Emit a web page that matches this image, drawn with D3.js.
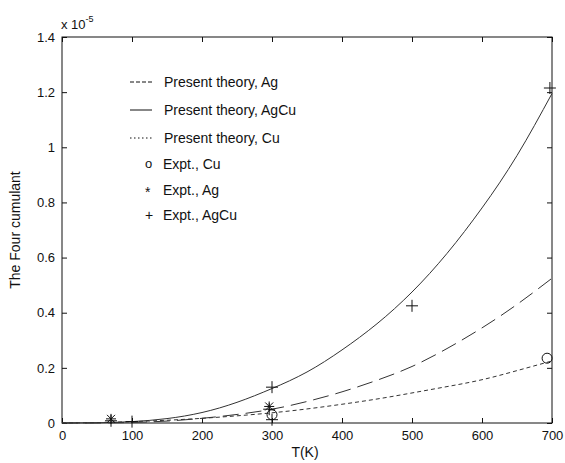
<!DOCTYPE html>
<html><head><meta charset="utf-8">
<script src="https://cdn.jsdelivr.net/npm/d3@7"></script>
<style>body{margin:0;background:#fff}svg{display:block;font-family:"Liberation Sans",Arial,sans-serif}</style>
</head><body><svg id="c" width="565" height="463"></svg>
<script>
// temperatures (K) at which curves are sampled
const temps = [0,50,100,150,200,250,300,350,400,450,500,550,600,650,700];
// theory curves (units of 1e-5)
const theoryAg   = [0,0.0003,0.002,0.007,0.017,0.031,0.05,0.078,0.113,0.155,0.205,0.27,0.345,0.43,0.525];
const theoryAgCu = [0,0.0008,0.005,0.016,0.038,0.075,0.125,0.185,0.265,0.36,0.475,0.615,0.78,0.97,1.195];
const theoryCu   = [0,0.0015,0.005,0.01,0.017,0.026,0.037,0.051,0.068,0.087,0.109,0.132,0.157,0.19,0.225];
// experimental points
const exptCuT = [300,693];       const exptCu = [0.03,0.235];
const exptAgT = [70,296];        const exptAg = [0.015,0.06];
const exptAgCuT = [70,100,300,296,300,500,697]; const exptAgCu = [0.008,0.005,0.13,0.05,0.012,0.425,1.215];
const xTicks = [0,100,200,300,400,500,600,700];
const yTicks = [0,0.2,0.4,0.6,0.8,1,1.2,1.4];
const legendLabels = ["Present theory, Ag","Present theory, AgCu","Present theory, Cu","Expt., Cu","Expt., Ag","Expt., AgCu"];

const svg = d3.select("#c");
const L=62,R=552,T=37,B=423;
const x = d3.scaleLinear().domain([0,700]).range([L,R]);
const y = d3.scaleLinear().domain([0,1.4]).range([B,T]);
const ink="#111";

// axes with inward ticks
const fmt = d=>d3.format("")(+d.toFixed(1));
const gB = svg.append("g").attr("transform",`translate(0,${B})`).call(d3.axisBottom(x).tickValues(xTicks).tickSizeInner(-5).tickSizeOuter(0).tickPadding(8));
const gT = svg.append("g").attr("transform",`translate(0,${T})`).call(d3.axisTop(x).tickValues(xTicks).tickSizeInner(-5).tickSizeOuter(0).tickFormat(""));
const gL = svg.append("g").attr("transform",`translate(${L},0)`).call(d3.axisLeft(y).tickValues(yTicks).tickSizeInner(-5).tickSizeOuter(0).tickPadding(7).tickFormat(fmt));
const gR = svg.append("g").attr("transform",`translate(${R},0)`).call(d3.axisRight(y).tickValues(yTicks).tickSizeInner(-5).tickSizeOuter(0).tickFormat(""));
[gB,gT,gL,gR].forEach(g=>{g.select(".domain").remove();g.selectAll("line").attr("stroke",ink);g.selectAll("text").attr("font-size",13).attr("fill",ink).attr("font-family","Liberation Sans, Arial, sans-serif");});
svg.append("rect").attr("x",L).attr("y",T).attr("width",R-L).attr("height",B-T).attr("fill","none").attr("stroke",ink).attr("stroke-width",1);

// exponent label
const ex = svg.append("text").attr("x",61).attr("y",29).attr("font-size",13).attr("fill",ink);
ex.append("tspan").text("x 10");
ex.append("tspan").attr("dy",-7).attr("font-size",9).text("-5");

// axis titles
svg.append("text").attr("x",305).attr("y",457).attr("text-anchor","middle").attr("font-size",14).attr("fill",ink).text("T(K)");
svg.append("text").attr("transform","translate(20,230) rotate(-90)").attr("text-anchor","middle").attr("font-size",14).attr("fill",ink).text("The Four cumulant");

// curves
const line = d3.line().x(d=>x(d[0])).y(d=>y(d[1])).curve(d3.curveNatural);
const series = [
  {v:theoryAg, dash:"16,7"},
  {v:theoryAgCu, dash:null},
  {v:theoryCu, dash:"4,3"}
];
series.forEach(s=>{
  svg.append("path").datum(temps.map((t,i)=>[t,s.v[i]])).attr("d",line)
    .attr("fill","none").attr("stroke","#333").attr("stroke-width",1)
    .attr("stroke-dasharray",s.dash);
});

// markers
function plus(g,cx,cy){g.append("path").attr("d",`M${cx-6},${cy}H${cx+6}M${cx},${cy-6}V${cy+6}`).attr("stroke",ink).attr("fill","none");}
function star(g,cx,cy){g.append("path").attr("d",`M${cx-5},${cy}H${cx+5}M${cx},${cy-5}V${cy+5}M${cx-4},${cy-4}L${cx+4},${cy+4}M${cx-4},${cy+4}L${cx+4},${cy-4}`).attr("stroke",ink).attr("fill","none");}
function circ(g,cx,cy){g.append("circle").attr("cx",cx).attr("cy",cy).attr("r",5).attr("stroke",ink).attr("fill","none");}
const mk = svg.append("g");
exptCuT.forEach((t,i)=>circ(mk,x(t),y(exptCu[i])));
exptAgT.forEach((t,i)=>star(mk,x(t),y(exptAg[i])));
exptAgCuT.forEach((t,i)=>plus(mk,x(t),y(exptAgCu[i])));

// legend
const lg = svg.append("g").attr("font-size",14).attr("fill",ink);
const rows=[82,110,138,164,190,215];
const dashes=["4,2",null,"1.5,2.5"];
[0,1,2].forEach(i=>{
  lg.append("line").attr("x1",130).attr("x2",152).attr("y1",rows[i]).attr("y2",rows[i]).attr("stroke",ink).attr("stroke-dasharray",dashes[i]);
  lg.append("text").attr("x",164).attr("y",rows[i]+5).text(legendLabels[i]);
});
lg.append("text").attr("x",145).attr("y",rows[3]+4).attr("font-size",13).text("o");
lg.append("text").attr("x",145).attr("y",rows[4]+7).text("*");
lg.append("text").attr("x",145).attr("y",rows[5]+5).text("+");
[3,4,5].forEach(i=>lg.append("text").attr("x",163).attr("y",rows[i]+5).text(legendLabels[i]));
</script></body></html>
